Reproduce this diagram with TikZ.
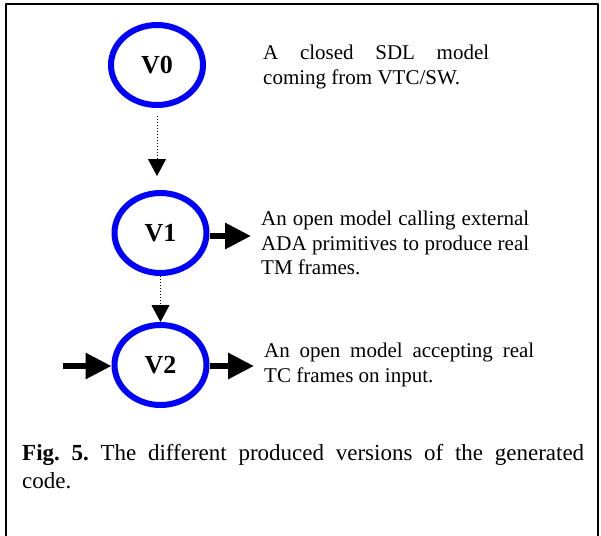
\documentclass[tikz,border=0pt]{standalone}
\usepackage{fontspec}
\setmainfont{Liberation Serif}
\usetikzlibrary{arrows.meta,shapes.geometric}
\frenchspacing
\tikzset{
  version/.style={ellipse,draw=blue,line width=6bp,inner sep=0pt,
    minimum width=92bp,minimum height=80bp,
    font=\fontsize{26bp}{30bp}\selectfont\bfseries},
  note/.style={anchor=north west,inner sep=0pt,align=justify,
    font=\fontsize{21bp}{24.3bp}\selectfont},
  flow/.style={line width=6bp,-{Triangle[length=26bp,width=25bp]}},
  refine/.style={dotted,line width=1bp,-{Triangle[length=17bp,width=18bp]}},
}
\begin{document}
\begin{tikzpicture}[line join=bevel]
  \useasboundingbox (0bp,0bp) rectangle (601bp,-536bp);
%%
  % Frame
  \draw [line width=2bp] (6bp,-536bp) -- (6bp,-4bp) -- (597.5bp,-4bp) -- (597.5bp,-536bp);
  % Node: v0
  \node [version] (v0) at (157bp,-65bp) {V0};
  \node [note,text width=226bp] (v0txt) at (263bp,-45bp)
    {A closed SDL model\linebreak coming from VTC/SW.};
  % Node: v1
  \node [version] (v1) at (160.5bp,-233bp) {V1};
  \node [note,text width=268bp] (v1txt) at (261bp,-211bp)
    {An open model calling external\linebreak ADA primitives to produce real\linebreak TM frames.};
  % Node: v2
  \node [version] (v2) at (160.5bp,-365bp) {V2};
  \node [note,text width=270bp] (v2txt) at (264bp,-343bp)
    {An open model accepting real\linebreak TC frames on input.};
  % Edge: v0 -> v1
  \draw [refine,shorten <=8bp,shorten >=14bp] (v0.south) -- (v0.south |- v1.north);
  % Edge: v1 -> v2
  \draw [refine] (v1.south) -- (v2.north);
  % Edge: v1 -> TM out
  \coordinate (tmout) at (251bp,-236bp);
  \draw [flow] (v1.east |- tmout) -- (tmout);
  % Edge: TC in -> v2
  \coordinate (tcin) at (63bp,-366bp);
  \draw [flow] (tcin) -- (v2.west |- tcin);
  % Edge: v2 -> TC out
  \coordinate (tcout) at (254bp,-366bp);
  \draw [flow] (v2.east |- tcout) -- (tcout);
  % Caption
  \node [anchor=north west,inner sep=0pt,align=justify,text width=562bp,
    font=\fontsize{23bp}{28bp}\selectfont] (caption) at (22bp,-444bp)
    {\textbf{Fig. 5.} The different produced versions of the generated\linebreak code.};
%
\end{tikzpicture}
\end{document}
